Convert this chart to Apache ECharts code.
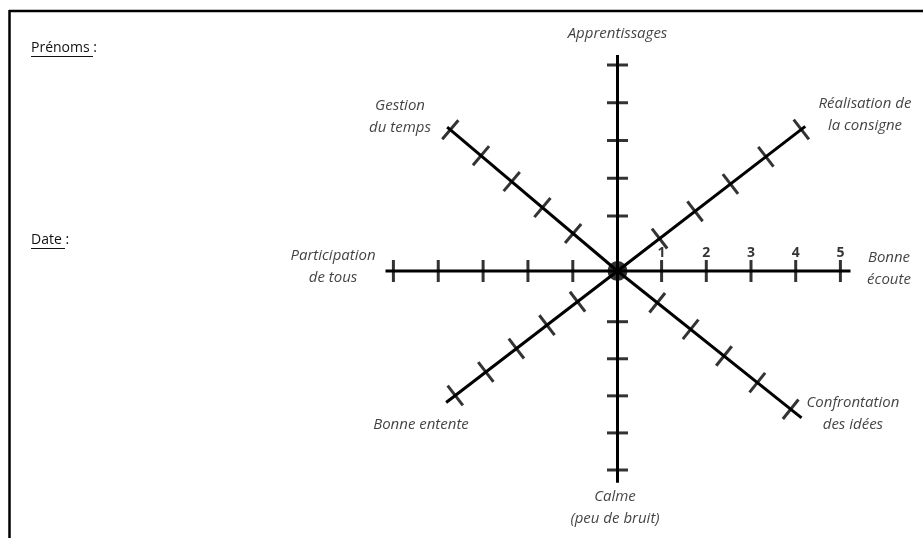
<!DOCTYPE html>
<html>
<head>
<meta charset="utf-8">
<title>Grille d'auto-évaluation</title>
<script src="https://cdn.jsdelivr.net/npm/echarts@6/dist/echarts.min.js"></script>
<style>
  html, body { margin: 0; padding: 0; background: #fff; }
  #chart { width: 923px; height: 538px; }
</style>
</head>
<body>
<div id="chart"></div>
<script>
  // criteres, dans le sens inverse des aiguilles en partant de la droite
  const categories = [
    'Bonne\nécoute',
    'Réalisation de\nla consigne',
    'Apprentissages',
    'Gestion\ndu temps',
    'Participation\nde tous',
    'Bonne entente',
    'Calme\n(peu de bruit)',
    'Confrontation\ndes idées'
  ];
  const tickValues = [1, 2, 3, 4, 5];
  const scaleLabels = ['1', '2', '3', '4', '5'];

  // dessin a main levee : chaque branche a son angle et son pas
  const spokes = [
    { angle: 0,     r1: 44.1, r5: 222.9, end: 233,   tick: [3, 22],  name: [271.5, 0.4] },
    { angle: 37.6,  r1: 53.1, r5: 232,   end: 237,   tick: [3, 25],  name: [292.8, 32.3] },
    { angle: 90,    r1: 55,   r5: 206,   end: 216,   tick: [3, 21],  name: [237, 90] },
    { angle: 139.8, r1: 58.1, r5: 218.9, end: 223,   tick: [3, 25],  name: [266.5, 144.7] },
    { angle: 180,   r1: 44.7, r5: 224.1, end: 232,   tick: [3, 22],  name: [284.5, 179.2] },
    { angle: 217.5, r1: 50.4, r5: 204.5, end: 216,   tick: [3, 25],  name: [249.7, 218.1] },
    { angle: 270,   r1: 50.7, r5: 199,   end: 211.7, tick: [3, 21],  name: [237, 269.4] },
    { angle: 321.4, r1: 50.9, r5: 221.6, end: 235.5, tick: [3, 25],  name: [275.5, 328.7] }
  ];

  const textColor = '#111';
  const font = '"Open Sans", Lato, sans-serif';

  function radiusOf(s, v) {
    return s.r1 + (v - 1) * (s.r5 - s.r1) / 4;
  }

  let series = [];

  // les branches
  spokes.forEach(s => {
    series.push({
      type: 'line',
      coordinateSystem: 'polar',
      symbol: 'none',
      silent: true,
      lineStyle: { color: '#000', width: 3 },
      data: [[0, s.angle], [s.end, s.angle]],
      z: 2
    });
  });

  // graduations
  let ticks = [];
  spokes.forEach(s => {
    tickValues.forEach(v => {
      ticks.push({
        value: [radiusOf(s, v), s.angle],
        symbolSize: s.tick,
        symbolRotate: s.angle
      });
    });
  });
  series.push({
    type: 'scatter',
    coordinateSystem: 'polar',
    symbol: 'rect',
    silent: true,
    itemStyle: { color: '#000' },
    data: ticks,
    z: 3
  });

  // point central
  series.push({
    type: 'scatter',
    coordinateSystem: 'polar',
    symbol: 'circle',
    symbolSize: 20,
    silent: true,
    itemStyle: { color: '#000' },
    data: [[0, 0]],
    z: 4
  });

  // numeros de l'echelle sur la branche de droite
  series.push({
    type: 'scatter',
    coordinateSystem: 'polar',
    symbolSize: 0,
    silent: true,
    data: tickValues.map((v, i) => ({ value: [radiusOf(spokes[0], v), spokes[0].angle], name: scaleLabels[i] })),
    label: {
      show: true,
      position: 'inside',
      offset: [0, -18],
      formatter: p => p.name,
      fontFamily: font,
      fontWeight: 'bold',
      fontSize: 14,
      color: '#000'
    },
    z: 5
  });

  // noms des criteres
  series.push({
    type: 'scatter',
    coordinateSystem: 'polar',
    symbolSize: 0,
    silent: true,
    data: categories.map((c, i) => ({ value: spokes[i].name, name: c })),
    label: {
      show: true,
      position: 'inside',
      formatter: p => p.name,
      fontFamily: font,
      fontStyle: 'italic',
      fontSize: 15,
      lineHeight: 22,
      align: 'center',
      color: textColor
    },
    z: 5
  });

  const option = {
    backgroundColor: '#fff',
    animation: false,
    polar: { center: [617.5, 271], radius: 300 },
    angleAxis: { type: 'value', min: 0, max: 360, startAngle: 0, clockwise: false, show: false },
    radiusAxis: { type: 'value', min: 0, max: 300, show: false },
    graphic: [
      // cadre
      { type: 'line', shape: { x1: 9, y1: 11, x2: 923, y2: 11 }, style: { stroke: '#000', lineWidth: 2.5 } },
      { type: 'line', shape: { x1: 9.5, y1: 10, x2: 9.5, y2: 538 }, style: { stroke: '#000', lineWidth: 2.5 } },
      // en-tete
      { type: 'text', x: 31, y: 48, style: { text: 'Prénoms :', font: '14px ' + font, fill: textColor, textVerticalAlign: 'middle', verticalAlign: 'middle' } },
      { type: 'line', shape: { x1: 31, y1: 56.5, x2: 93, y2: 56.5 }, style: { stroke: textColor, lineWidth: 1 } },
      { type: 'text', x: 31, y: 240, style: { text: 'Date :', font: '14px ' + font, fill: textColor, textVerticalAlign: 'middle', verticalAlign: 'middle' } },
      { type: 'line', shape: { x1: 31, y1: 248.5, x2: 65, y2: 248.5 }, style: { stroke: textColor, lineWidth: 1 } }
    ],
    series: series
  };

  const myChart = echarts.init(document.getElementById('chart'));
  myChart.setOption(option);
</script>
</body>
</html>
